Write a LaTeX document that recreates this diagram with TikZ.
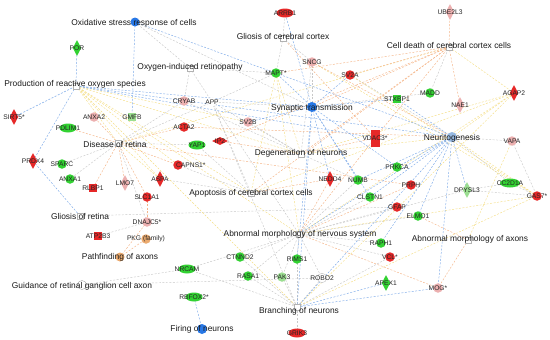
\documentclass[tikz,border=0pt]{standalone}
\usepackage{fontspec}
\setmainfont{Liberation Sans}
\usetikzlibrary{shapes.geometric}
\pgfdeclarelayer{background}
\pgfsetlayers{background,main}
\definecolor{lblue}{RGB}{125,170,232}
\definecolor{lorange}{RGB}{244,180,135}
\definecolor{lyellow}{RGB}{244,222,135}
\definecolor{lgray}{RGB}{200,200,200}
\definecolor{gred}{RGB}{230,40,40}
\definecolor{gpink}{RGB}{236,176,176}
\definecolor{ggreen}{RGB}{50,210,50}
\definecolor{gpale}{RGB}{155,222,145}
\definecolor{fblue}{RGB}{40,120,230}
\definecolor{nblue}{RGB}{150,185,225}
\definecolor{porange}{RGB}{235,170,110}
\tikzset{
  gcirc/.style={circle, inner sep=0pt, minimum size=9.5pt},
  gell/.style={ellipse, inner sep=0pt, minimum width=17pt, minimum height=9pt},
  gdia/.style={diamond, inner sep=0pt, minimum width=8.5pt, minimum height=16pt},
  gsq/.style={rectangle, inner sep=0pt, minimum size=8.5pt},
  glab/.style={font=\fontsize{6.7}{7}\selectfont, inner sep=0pt, text=black!85},
  fcirc/.style={circle, inner sep=0pt, minimum size=9pt},
  fsq/.style={rectangle, draw=black!30, fill=white, inner sep=0pt, minimum size=6pt, line width=0.4pt},
  flab/.style={font=\fontsize{8.4}{9}\selectfont, inner sep=0pt, text=black!90},
  ebase/.style={dash pattern=on 2pt off 1.5pt, line width=0.45pt},
  eblue/.style={ebase, draw=lblue},
  eorange/.style={ebase, draw=lorange},
  eyellow/.style={ebase, draw=lyellow},
  egray/.style={ebase, draw=lgray},
}
\begin{document}
\begin{tikzpicture}[x=1pt,y=-1pt]
\useasboundingbox (0,0) rectangle (550,340);
% ---------- function nodes ----------
\node[fcirc, fill=fblue] (ox) at (135,22) {};
\node[fsq] (ros) at (76,86) {};
\node[fsq] (oir) at (190,68) {};
\node[fsq] (gcc) at (283,38) {};
\node[fsq] (cdc) at (449,47) {};
\node[fcirc, fill=fblue, minimum size=10pt] (syn) at (312,107) {};
\node[fsq] (dor) at (118,143) {};
\node[fsq] (gor) at (80,216) {};
\node[fsq] (don) at (301,154) {};
\node[fcirc, fill=nblue, minimum size=10pt] (neu) at (452,137) {};
\node[fsq] (acc) at (251,193) {};
\node[fsq] (amn) at (299,234) {};
\node[fsq] (bon) at (297,307) {};
\node[fsq] (amx) at (468,240) {};
\node[fcirc, fill=porange] (pfa) at (120,257) {};
\node[fcirc, draw=black!35, fill=white, line width=0.4pt] (grg) at (82,285) {};
\node[fcirc, fill=fblue, minimum size=10pt] (fon) at (202,329) {};
% ---------- gene nodes ----------
\node[gdia, fill=ggreen, label={[glab]center:POR}] (por) at (77,48) {};
\node[gdia, fill=gred, label={[glab]center:SIRT5*}] (sirt) at (14,117) {};
\node[gcirc, fill=gpink, label={[glab]center:ANXA2}] (anxa2) at (94,117) {};
\node[gsq, fill=gpale, label={[glab]center:GMFB}] (gmfb) at (132,117) {};
\node[gcirc, fill=gpink, label={[glab]center:CRYAB}] (cryab) at (184,101) {};
\node[gcirc, fill=white, label={[glab]center:APP}] (app) at (212,102) {};
\node[gell, fill=gred, label={[glab]center:ARRB1}] (arrb1) at (285,13) {};
\node[gcirc, fill=ggreen, label={[glab]center:MAPT*}] (mapt) at (276,73) {};
\node[gcirc, fill=gpink, label={[glab]center:SNCG}] (sncg) at (312,62) {};
\node[gcirc, fill=gred, label={[glab]center:SV2A}] (sv2a) at (350,75) {};
\node[gdia, fill=gpink, label={[glab]center:UBE2L3}] (ube) at (450,12) {};
\node[gsq, fill=ggreen, label={[glab]center:STXBP1}] (stxbp1) at (397,99) {};
\node[gcirc, fill=ggreen, label={[glab]center:MADD}] (madd) at (430,93) {};
\node[gdia, fill=gpink, label={[glab]center:NAE1}] (nae1) at (460,105) {};
\node[gdia, fill=gred, label={[glab]center:AGAP2}] (agap2) at (514,93) {};
\node[gcirc, fill=gpink, label={[glab]center:SV2B}] (sv2b) at (248,122) {};
\node[gcirc, fill=gred, label={[glab]center:ACTA2}] (acta2) at (184,127) {};
\node[gell, fill=ggreen, label={[glab]center:YAP1}] (yap1) at (197,145) {};
\node[diamond, inner sep=0pt, minimum width=16pt, minimum height=8pt, fill=gred, label={[glab]center:IP2}] (ip2) at (220,141) {};
\node[gell, fill=ggreen, label={[glab]center:PDLIM1}] (pdlim1) at (68,128) {};
\node[gdia, fill=gred, label={[glab]center:PRDX4}] (prdx4) at (33,161) {};
\node[gcirc, fill=ggreen, label={[glab]center:SPARC}] (sparc) at (62,164) {};
\node[gcirc, fill=ggreen, label={[glab]center:ANXA1}] (anxa1) at (70,179) {};
\node[gsq, fill=gred, label={[glab]center:RLBP1}] (rlbp1) at (93,188) {};
\node[gdia, fill=gpink, label={[glab]center:LMO7}] (lmo7) at (125,183) {};
\node[gcirc, fill=gred, label={[glab]0:{\hspace{-7pt}CAPNS1*}}] (capns1) at (178,165) {};
\node[gdia, fill=gred, label={[glab]center:ASPA}] (aspa) at (160,179) {};
\node[gcirc, fill=gred, label={[glab]center:SLC1A1}] (slc1a1) at (147,197) {};
\node[gcirc, fill=gpink, label={[glab]center:DNAJC5*}] (dnajc5) at (147,222) {};
\node[gsq, fill=gred, label={[glab]center:ATP2B3}] (atp2b3) at (98,236) {};
\node[gcirc, fill=porange, label={[glab]center:PKG (family)}] (pkg) at (146,239) {};
\node[gell, fill=ggreen, label={[glab]center:NRCAM}] (nrcam) at (187,269) {};
\node[gcirc, fill=ggreen, label={[glab]center:CTNND2}] (ctnnd2) at (240,257) {};
\node[gcirc, fill=ggreen, label={[glab]center:RASA1}] (rasa1) at (248,276) {};
\node[gcirc, fill=gpale, label={[glab]center:PAK3}] (pak3) at (282,277) {};
\node[gcirc, fill=ggreen, label={[glab]center:RIMS1}] (rims1) at (297,259) {};
\node[gcirc, draw=black!25, fill=white, label={[glab]center:ROBO2}] (robo2) at (322,278) {};
\node[gell, fill=ggreen, label={[glab]center:RBFOX2*}] (rbfox2) at (194,297) {};
\node[gell, fill=gred, label={[glab]center:GRIK3}] (grik3) at (297,333) {};
\node[gdia, fill=gred, label={[glab]center:NEDD4}] (nedd4) at (330,179) {};
\node[gcirc, fill=ggreen, label={[glab]center:NUMB}] (numb) at (358,180) {};
\node[gcirc, fill=ggreen, label={[glab]center:CLSTN1}] (clstn1) at (370,197) {};
\node[rectangle, inner sep=0pt, minimum width=9pt, minimum height=17pt, fill=gred, label={[glab]center:VDAC3*}] (vdac3) at (375,138) {};
\node[gcirc, fill=ggreen, label={[glab]center:PRKCA}] (prkca) at (397,167) {};
\node[gcirc, fill=gred, label={[glab]center:PRPH}] (prph) at (411,185) {};
\node[gcirc, fill=gred, label={[glab]center:GFAP}] (gfap) at (397,207) {};
\node[gcirc, fill=ggreen, label={[glab]center:ELMO1}] (elmo1) at (418,216) {};
\node[gcirc, fill=ggreen, label={[glab]center:RAPH1}] (raph1) at (381,243) {};
\node[gcirc, fill=gred, label={[glab]center:VCL*}] (vcl) at (390,257) {};
\node[gdia, fill=ggreen, label={[glab]center:APEX1}] (apex1) at (386,283) {};
\node[gcirc, fill=gpink, label={[glab]center:MOG*}] (mog) at (438,288) {};
\node[gdia, fill=gpale, label={[glab]center:DPYSL3}] (dpysl3) at (467,190) {};
\node[gell, fill=ggreen, minimum width=20pt, label={[glab]center:CC2D1A}] (cc2d1a) at (510,183) {};
\node[gcirc, fill=gpink, label={[glab]center:VAPA}] (vapa) at (512,141) {};
\node[gcirc, fill=gred, label={[glab]center:GAS7*}] (gas7) at (537,196) {};
% ---------- function labels ----------
\node[flab] (oxl) at (134,23) {Oxidative stress response of cells};
\node[flab] (rosl) at (75,84) {Production of reactive oxygen species};
\node[flab] (oirl) at (190,67) {Oxygen-induced retinopathy};
\node[flab] (gccl) at (283,36) {Gliosis of cerebral cortex};
\node[flab] (cdcl) at (449,45) {Cell death of cerebral cortex cells};
\node[flab] (synl) at (312,108) {Synaptic transmission};
\node[flab] (dorl) at (115,144) {Disease of retina};
\node[flab] (gorl) at (80,216) {Gliosis of retina};
\node[flab] (donl) at (301,153) {Degeneration of neurons};
\node[flab] (neul) at (452,138) {Neuritogenesis};
\node[flab] (accl) at (251,193) {Apoptosis of cerebral cortex cells};
\node[flab] (amnl) at (300,234) {Abnormal morphology of nervous system};
\node[flab] (bonl) at (299,311) {Branching of neurons};
\node[flab] (amxl) at (470,239) {Abnormal morphology of axons};
\node[flab] (pfal) at (120,257) {Pathfinding of axons};
\node[flab] (grgl) at (82,286) {Guidance of retinal ganglion cell axon};
\node[flab] (fonl) at (202,329) {Firing of neurons};
% ---------- edges ----------
\begin{pgfonlayer}{background}
\foreach \a/\b in {ox/oir, ox/syn, oir/app, oir/cryab, oir/mapt, gcc/mapt, gcc/sncg, gcc/arrb1,
  app/syn, app/don, app/dor, app/acc, app/amn, app/bon, cryab/dor, cryab/don, sncg/syn, sncg/don,
  madd/cdc, madd/syn, vapa/neu, vapa/gas7, cc2d1a/dpysl3, cc2d1a/neu, cc2d1a/gas7, dpysl3/amn,
  amn/ctnnd2, amn/rasa1, amn/pak3, amn/rims1, amn/robo2, amn/nrcam, amn/gfap, amn/raph1, amn/vcl,
  amn/numb, amn/clstn1, amn/elmo1, bon/grik3, bon/ctnnd2, bon/rasa1, bon/pak3, bon/robo2, bon/rims1,
  bon/nrcam, bon/vcl, grg/nrcam, grg/robo2, atp2b3/dnajc5, dnajc5/dor, don/numb, acc/yap1, acc/aspa,
  dor/yap1, dor/sparc, dor/anxa1, acc/capns1, don/sv2b, gor/gfap, sv2a/neu, dpysl3/gas7, mapt/app}
  \draw[egray] (\a.center) -- (\b.center);
\foreach \a/\b in {ros/dor, ros/aspa, ros/capns1, ros/acc, ros/don, ros/amn, ros/sv2b, ros/bon,
  mapt/acc, mapt/amn, mapt/don, agap2/cdc, agap2/neu, agap2/amn, agap2/don, agap2/acc, agap2/bon,
  gas7/amn, gas7/bon, gas7/neu, gas7/sv2a, cdc/dor, neu/don, dor/aspa, vapa/amx, sncg/gas7}
  \draw[eyellow] (\a.center) -- (\b.center);
\foreach \a/\b in {cdc/ube, cdc/nae1, cdc/syn, cdc/don, cdc/acc, cdc/mapt, cdc/vdac3, cdc/sv2a,
  sncg/neu, gcc/vdac3, dor/lmo7, dor/slc1a1, dor/anxa2, dor/capns1, dor/acta2, dor/pdlim1, dor/rlbp1,
  dor/prph, pfa/pkg, pfa/dnajc5, amx/mog, mog/amn, amx/elmo1, amn/nedd4, amn/vdac3, amn/prph, don/ip2,
  don/vdac3, acc/nedd4, acta2/neu, ip2/cdc, slc1a1/dnajc5}
  \draw[eorange] (\a.center) -- (\b.center);
\foreach \a/\b in {ox/gmfb, ox/neu, por/ros, sirt/ros, prdx4/ros, prdx4/gor, ros/syn, ros/neu,
  ros/vdac3, syn/sv2a, syn/stxbp1, syn/mapt, syn/sv2b, syn/rims1, syn/clstn1, syn/bon, syn/nedd4,
  syn/prkca, syn/numb, syn/arrb1, neu/dpysl3, neu/elmo1, neu/raph1, neu/prkca, neu/clstn1, neu/stxbp1,
  neu/numb, neu/mog, neu/bon, neu/amn, mog/bon, rbfox2/fon, apex1/bon}
  \draw[eblue] (\a.center) -- (\b.center);
\end{pgfonlayer}
\end{tikzpicture}
\end{document}
